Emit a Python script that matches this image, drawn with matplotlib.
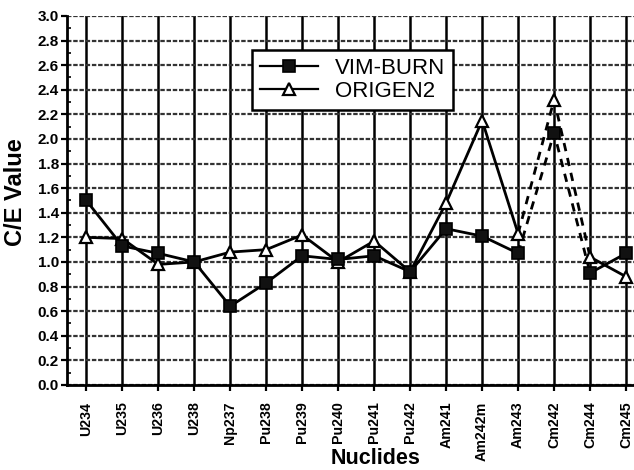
import matplotlib
matplotlib.use("Agg")
import matplotlib.pyplot as plt
from matplotlib.ticker import MultipleLocator

plt.rcParams["font.family"] = ["Liberation Sans", "DejaVu Sans"]

nuclides = ["U234", "U235", "U236", "U238", "Np237", "Pu238", "Pu239", "Pu240",
            "Pu241", "Pu242", "Am241", "Am242m", "Am243", "Cm242", "Cm244", "Cm245"]
vim_burn = [1.50, 1.13, 1.07, 1.00, 0.64, 0.83, 1.05, 1.02,
            1.05, 0.92, 1.27, 1.21, 1.07, 2.05, 0.91, 1.07]
origen2 = [1.20, 1.19, 0.98, 1.00, 1.08, 1.10, 1.22, 1.00,
           1.17, 0.92, 1.48, 2.15, 1.23, 2.32, 1.04, 0.88]

x = list(range(len(nuclides)))

fig = plt.figure(figsize=(6.34, 4.70), dpi=100)
ax = fig.add_axes([0.106, 0.181, 0.894, 0.785])

ax.set_xlim(-0.53, 15.22)
ax.set_ylim(0, 3.0)

# grid: solid verticals at each nuclide, dotted horizontals every 0.2
ax.set_xticks(x)
ax.set_xticklabels(nuclides, rotation=90, fontsize=10.2, fontweight="bold")
ax.yaxis.set_major_locator(MultipleLocator(0.2))
ax.yaxis.set_minor_locator(MultipleLocator(0.1))
ax.set_yticklabels([f"{v:.1f}" for v in ax.get_yticks()], fontsize=11, fontweight="bold")
ax.xaxis.grid(True, color="black", linewidth=1.8, linestyle="-")
ax.yaxis.grid(True, color="#333333", linewidth=1.6, linestyle=(0, (2, 0.8)))
ax.set_axisbelow(True)
ax.get_ygridlines()[-1].set_visible(False)

for s in ["top", "right"]:
    ax.spines[s].set_visible(False)
for s in ["left", "bottom"]:
    ax.spines[s].set_linewidth(2)
ax.tick_params(axis="x", direction="out", length=4, width=1.6, pad=8)
ax.tick_params(axis="y", which="major", direction="out", length=4, width=1.6, pad=2)
ax.tick_params(axis="y", which="minor", direction="in", length=3, width=1.2)

sq = dict(marker="s", markersize=8, markerfacecolor="#111111", markeredgecolor="black",
          markeredgewidth=1.2)
tri = dict(marker="^", markersize=9, markerfacecolor="white", markeredgecolor="black",
           markeredgewidth=1.6)

# solid segments, dashed across Am243 - Cm242 - Cm244
for series, mk in [(origen2, tri), (vim_burn, sq)]:
    ax.plot(x[:13], series[:13], color="black", lw=2, zorder=3)
    ax.plot(x[14:], series[14:], color="black", lw=2, zorder=3)
    ax.plot(x[12:15], series[12:15], color="black", lw=2, linestyle=(0, (3, 2.5)), zorder=3)
    ax.plot(x, series, linestyle="none", zorder=4, **mk)

h1, = ax.plot([], [], color="black", lw=1.6, **sq)
h2, = ax.plot([], [], color="black", lw=1.6, **tri)
leg = ax.legend([h1, h2], ["VIM-BURN", "ORIGEN2"], loc="upper left",
                bbox_to_anchor=(0.326, 0.908), borderaxespad=0, fancybox=False,
                framealpha=1, edgecolor="black", fontsize=16, handlelength=2.6,
                handletextpad=0.8, labelspacing=0.1, borderpad=0.35)
leg.get_frame().set_linewidth(1.8)
leg.set_zorder(5)

ax.set_ylabel("C/E Value", fontsize=17, fontweight="bold")
ax.yaxis.set_label_coords(-0.071, 0.523)
fig.text(0.592, 0.012, "Nuclides", ha="center", va="baseline", fontsize=15.5, fontweight="bold")

fig.savefig("out.png", dpi=100, facecolor="white")
